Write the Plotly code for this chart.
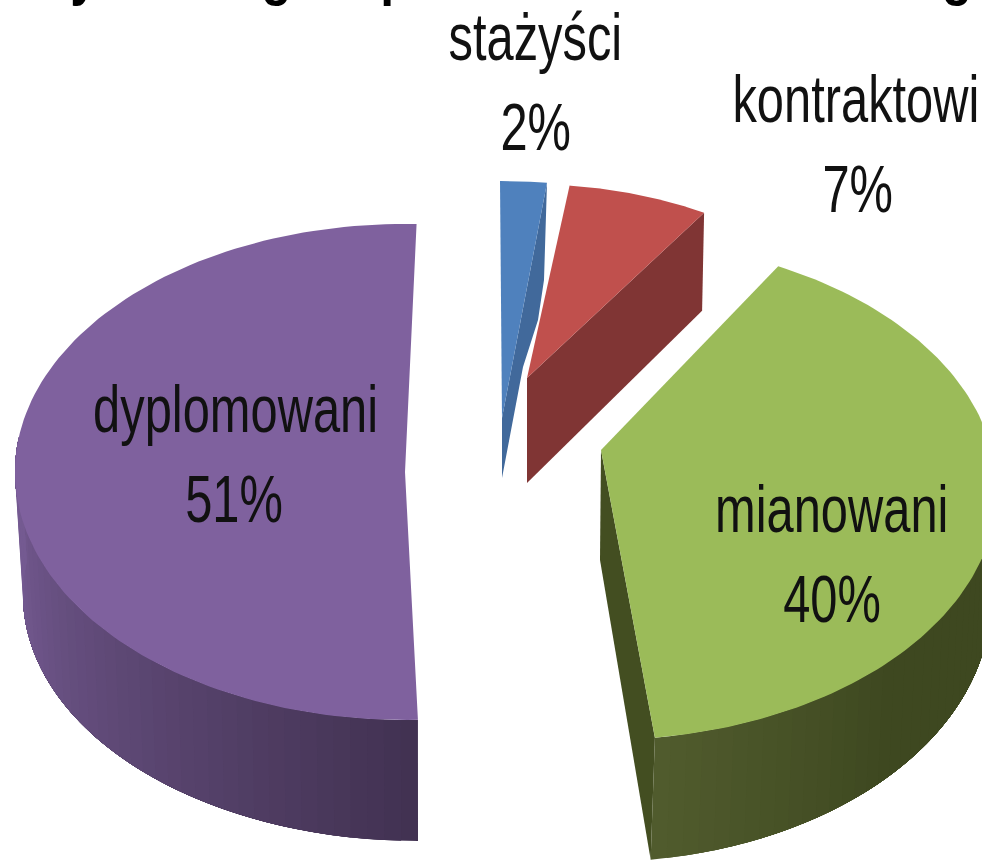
import math
import plotly.graph_objects as go

categories = ["stażyści", "kontraktowi", "mianowani", "dyplomowani"]
values = [2, 7, 40, 51]
title_text = "Nauczyciele wg stopnia awansu zawodowego"

top_colors = ["#4f81bd", "#c0504d", "#9bbb59", "#7f619e"]
cut_colors = ["#41699b", "#803534", "#434e21", None]

# ellipse geometry per slice: apex and rim ellipse of upper and lower face
geometry = [
    dict(apex=(502, 418), apex_low=(502, 478), top=(500, 418, 375, 237), low=(500, 418, 375, 237), rot=0, rot_low=0, stretch=1.0),
    dict(apex=(527, 378), apex_low=(527, 483), top=(527, 380, 340, 196), low=(525, 478, 340, 196), rot=0, rot_low=0, stretch=0.96),
    dict(apex=(601, 450), apex_low=(600, 560), top=(602, 490, 395, 250), low=(598, 600, 393, 262), rot=-5.9, rot_low=-5.9, stretch=1.0125),
    dict(apex=(405, 472), apex_low=(405, 590), top=(405, 472, 390, 248), low=(418, 595, 395, 246), rot=1.7, rot_low=3.6, stretch=1.0),
]
blue_cut_bulge = [(523, 367), (538, 320), (544, 280)]
walls = {
    2: dict(stop=78, colors=("#505b2d", "#3e4820")),
    3: dict(stop=278, colors=("#423252", "#745a91")),
}
label_pos = {
    "stażyści": (535, 37, 535, 127),
    "kontraktowi": (856, 99, 857, 189),
    "mianowani": (832, 509, 832, 599),
    "dyplomowani": (235, 409, 234, 499),
}


def ell(e, deg):
    cx, cy, rx, ry = e
    t = math.radians(deg)
    return cx + rx * math.sin(t), cy - ry * math.cos(t)


def mix(a, b, f):
    ca = [int(a[i:i + 2], 16) for i in (1, 3, 5)]
    cb = [int(b[i:i + 2], 16) for i in (1, 3, 5)]
    return "#%02x%02x%02x" % tuple(round(p + (q - p) * f) for p, q in zip(ca, cb))


def poly(fig, pts, color):
    fig.add_trace(go.Scatter(
        x=[p[0] for p in pts] + [pts[0][0]],
        y=[p[1] for p in pts] + [pts[0][1]],
        mode="lines", fill="toself", fillcolor=color,
        line=dict(color=color, width=0), hoverinfo="skip", showlegend=False))


fig = go.Figure()
cum = 0
spans = []
for v, g in zip(values, geometry):
    spans.append((cum, v * 3.6 * g["stretch"]))
    cum += v * 3.6

for idx in [3, 2, 1, 0]:
    g = geometry[idx]
    start, span = spans[idx]
    a0, a1 = start + g["rot"], start + g["rot"] + span
    b0, b1 = start + g["rot_low"], start + g["rot_low"] + span

    # cut face
    if cut_colors[idx]:
        end_top = ell(g["top"], a1)
        end_low = ell(g["low"], b1)
        if idx == 0:
            poly(fig, [end_top, g["apex"], g["apex_low"]] + blue_cut_bulge, cut_colors[idx])
        else:
            poly(fig, [end_top, g["apex"], g["apex_low"], end_low], cut_colors[idx])

    # outer wall: each band is painted over the rest of the wall, giving a smooth shade
    if idx in walls:
        w = walls[idx]
        n = 40
        if idx == 3:
            tr0, lr0 = a0, b0
        else:
            tr0, lr0 = a1, b1
        tr1 = lr1 = w["stop"]
        gain = 1.15 if idx == 3 else 2.5
        for k in range(n):
            f0 = k / n
            m = 30
            upper = [ell(g["top"], tr0 + (tr1 - tr0) * (f0 + (1 - f0) * i / m)) for i in range(m + 1)]
            lower = [ell(g["low"], lr0 + (lr1 - lr0) * (f0 + (1 - f0) * i / m)) for i in range(m, -1, -1)]
            poly(fig, upper + lower, mix(w["colors"][0], w["colors"][1], min(1, f0 * gain)))

    # upper face
    m = 120
    rim = [ell(g["top"], a0 + span * i / m) for i in range(m + 1)]
    poly(fig, [g["apex"]] + rim, top_colors[idx])

font = "Liberation Sans, sans-serif"
annots = []
for c, v in zip(categories, values):
    x1, y1, x2, y2 = label_pos[c]
    for x, y, t in ((x1, y1, c), (x2, y2, f"{v}%")):
        annots.append(dict(x=x, y=y, text=t, showarrow=False, xanchor="center", yanchor="middle",
                           font=dict(family=font, size=66, color="#111111")))
annots.append(dict(x=463, xref="x", y=1, yref="paper", yanchor="bottom", yshift=-9,
                   text="<b>" + title_text + "</b>", showarrow=False, xanchor="center",
                   font=dict(family=font, size=60, color="#000000")))

fig.update_layout(
    width=982, height=861, margin=dict(l=0, r=0, t=0, b=0),
    paper_bgcolor="white", plot_bgcolor="white", showlegend=False,
    xaxis=dict(range=[0, 982], visible=False, fixedrange=True),
    yaxis=dict(range=[861, 0], visible=False, fixedrange=True),
    annotations=annots,
)
squeeze = """
document.body.style.margin='0';document.body.style.overflow='hidden';
document.querySelectorAll('.annotation-text').forEach(function(t){
  var s = t.textContent.indexOf('Nauczyciele') >= 0 ? 0.83 : 0.74;
  t.style.transformBox='fill-box';t.style.transformOrigin='center';
  t.style.transform='scaleX('+s+')';
});
"""
fig.write_html("out.html", config=dict(displayModeBar=False), post_script=squeeze)
